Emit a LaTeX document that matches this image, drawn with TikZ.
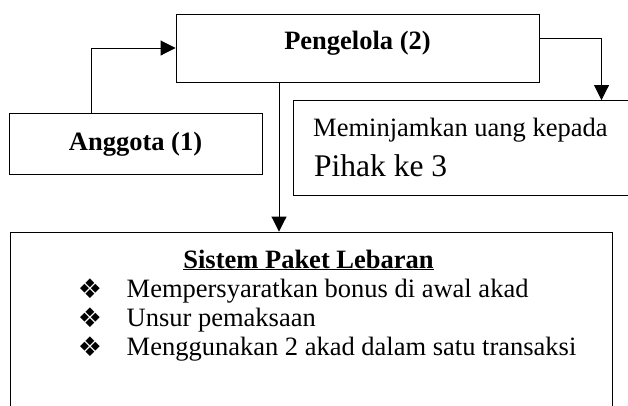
\documentclass[tikz,border=0pt]{standalone}
\usepackage{fontspec}
\setmainfont{Liberation Serif}
\newfontfamily\symfont{DejaVu Sans}
\usetikzlibrary{
  arrows.meta,
}
\tikzset{
  box/.style={rectangle, draw=black, line width=0.9pt, inner sep=0pt},
  arrow/.style={-{Triangle[length=15pt,width=15pt]}, black, line width=0.9pt},
  txt/.style={anchor=base, inner sep=0pt, font=\fontsize{26.5}{30}\selectfont},
  boldtxt/.style={txt, font=\fontsize{26.5}{30}\selectfont\bfseries},
  itemtxt/.style={txt, anchor=base west},
  bullet/.style={inner sep=0pt, font=\symfont\fontsize{27}{28}\selectfont},
}

\begin{document}
\begin{tikzpicture}[x=1pt, y=-1pt]

  \useasboundingbox (0,0) rectangle (628,405);
  \clip (0,0) rectangle (628,405);

  % Boxes
  \node[box, minimum width=363pt, minimum height=68pt] (peng) at (357.5, 48) {};
  \node[box, minimum width=253pt, minimum height=61pt] (ang) at (135.5, 143.5) {};
  \node[box, minimum width=360pt, minimum height=95pt] (pinj) at (473, 148) {};
  \node[box, minimum width=602pt, minimum height=200pt] (sis) at (311, 332) {};

  % Texts
  \node[boldtxt] (pengText) at (357.5, 49.5) {Pengelola (2)};
  \node[boldtxt] (angText) at (135.5, 150) {Anggota (1)};
  \node[itemtxt] (pinjText) at (313, 136) {Meminjamkan uang kepada};
  \node[itemtxt, font=\fontsize{31.5}{36}\selectfont] (pihakText) at (314, 176) {Pihak ke 3};

  \node[boldtxt] (sisTitle) at (308.5, 268) {\underline{Sistem Paket Lebaran}};
  \node[itemtxt] (item1) at (126.5, 297) {Mempersyaratkan bonus di awal akad};
  \node[itemtxt] (item2) at (126.5, 326) {Unsur pemaksaan};
  \node[itemtxt] (item3) at (126.5, 355) {Menggunakan 2 akad dalam satu transaksi};
  \node[bullet] (bul1) at (90, 289) {❖};
  \node[bullet] (bul2) at (90, 318) {❖};
  \node[bullet] (bul3) at (90, 347) {❖};

  % Arrows
  \draw[arrow] ([xshift=-44.5pt]ang.north) |- (peng.west);
  \draw[arrow] ([yshift=10pt]peng.east) -| ([xshift=128.5pt]pinj.north);
  \draw[arrow] ([xshift=-78.5pt]peng.south) -- ([xshift=-78.5pt]peng.south |- sis.north);

\end{tikzpicture}
\end{document}
